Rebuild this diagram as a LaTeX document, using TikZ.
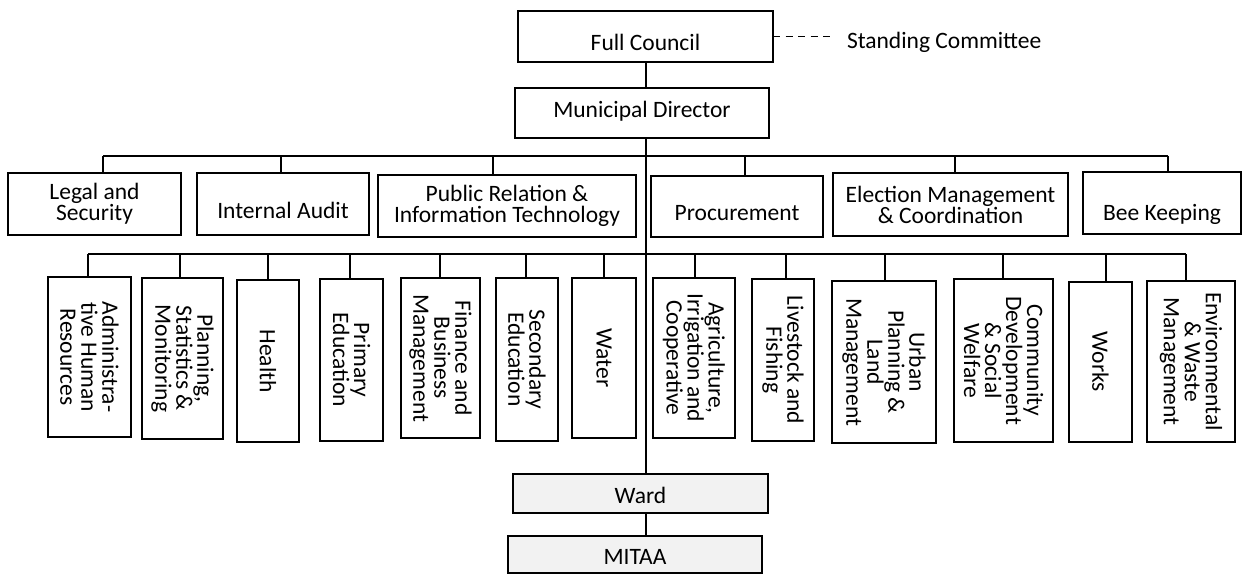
\documentclass[tikz,border=0pt]{standalone}
\usepackage{fontspec}
\setmainfont{Carlito}
\definecolor{wardfill}{HTML}{F2F2F2}

% box given by its corners: \orgbox[options]{name}{x1}{y1}{x2}{y2}
\newcommand{\orgbox}[6][]{%
  \node[box,#1,minimum width={(#5-#3)*1pt},minimum height={(#6-#4)*1pt}]
    (#2) at ({(#3+#5)/2},{(#4+#6)/2}) {};}

\begin{document}
\begin{tikzpicture}[x=1pt,y=-1pt,
  box/.style={draw=black,line width=1.3pt,fill=white,inner sep=0pt,outer sep=0pt},
  shaded/.style={fill=wardfill},
  txt/.style={inner sep=0pt,outer sep=0pt,font=\fontsize{23.5}{21}\selectfont,align=center},
  vtxt/.style={txt,rotate=-90},
  conn/.style={draw=black,line width=1.2pt},
  dashconn/.style={draw=black,line width=1.1pt,dash pattern=on 7pt off 5.5pt}]
\useasboundingbox (0,0) rectangle (1245,575);

% ---- top of the hierarchy
\orgbox{fc}{518}{11}{773}{62}
\node[txt,anchor=base] (t-fc) at (645.5,51) {Full Council};
\orgbox{md}{515}{88}{769}{138}
\node[txt,anchor=base] (t-md) at (642,118) {Municipal Director};

\node[txt,anchor=base west] (sc) at (847,49) {Standing Committee};
\coordinate (scl) at (833,36.5);
\draw[dashconn] (fc.east) -- (scl);

% ---- units
\orgbox{legal}{8}{173}{181}{235}
\node[txt] (t-legal) at (legal) {Legal and\\Security};
\orgbox{audit}{197}{173}{369}{235}
\node[txt,anchor=base] (t-audit) at (283,218) {Internal Audit};
\orgbox{pr}{378}{175}{636}{237}
\node[txt] (t-pr) at (pr) {Public Relation \&\\Information Technology};
\orgbox{proc}{651}{176}{823}{237}
\node[txt,anchor=base] (t-proc) at (737,220) {Procurement};
\orgbox{elec}{833}{173}{1068}{236}
\node[txt] (t-elec) at (elec) {Election Management\\\& Coordination};
\orgbox{bee}{1083}{172}{1241}{234}
\node[txt,anchor=base] (t-bee) at (1162,220) {Bee Keeping};

% ---- departments
\orgbox{admin}{48}{277}{131}{437}
\node[vtxt] (t-admin) at (admin) {Administra-\\tive Human\\Resources};
\orgbox{plan}{142}{278}{223}{439}
\node[vtxt] (t-plan) at (plan) {Planning,\\Statistics \&\\Monitoring};
\orgbox{health}{237}{280}{299}{442}
\node[vtxt] (t-health) at (health) {Health};
\orgbox{prim}{320}{279}{383}{441}
\node[vtxt] (t-prim) at (prim) {Primary\\Education};
\orgbox{fin}{401}{278}{480}{438}
\node[vtxt] (t-fin) at (fin) {Finance and\\Business\\Management};
\orgbox{sec}{496}{278}{558}{441}
\node[vtxt] (t-sec) at (sec) {Secondary\\Education};
\orgbox{water}{572}{278}{636}{438}
\node[vtxt] (t-water) at (water) {Water};
\orgbox{agri}{653}{278}{735}{438}
\node[vtxt] (t-agri) at (agri) {Agriculture,\\Irrigation and\\Cooperative};
\orgbox{live}{752}{279}{814}{441}
\node[vtxt] (t-live) at (live) {Livestock and\\Fishing};
\orgbox{urban}{832}{281}{936}{443}
\node[vtxt] (t-urban) at (urban) {Urban\\Planning \&\\Land\\Management};
\orgbox{comm}{954}{279}{1053}{442}
\node[vtxt] (t-comm) at (comm) {Community\\Development\\\& Social\\Welfare};
\orgbox{works}{1069}{282}{1132}{442}
\node[vtxt] (t-works) at (works) {Works};
\orgbox{env}{1147}{281}{1235}{442}
\node[vtxt] (t-env) at (env) {Environmental\\\& Waste\\Management};

% ---- lower levels
\orgbox[shaded]{ward}{513}{474}{768}{513}
\node[txt,anchor=base] (t-ward) at (640.5,503) {Ward};
\orgbox[shaded]{mitaa}{508}{536}{762}{573}
\node[txt,anchor=base] (t-mitaa) at (635,564) {MITAA};

% ---- connectors
\coordinate (sp) at (646,156);
\draw[conn] (fc.south -| sp) -- (md.north -| sp);
\draw[conn] (md.south -| sp) -- (ward.north -| sp);
\draw[conn] (ward.south -| sp) -- (mitaa.north -| sp);

\foreach \n/\x in {legal/103,audit/281,pr/493,proc/745,elec/955,bee/1168}{
  \coordinate (j-\n) at (\x,156);
  \draw[conn] (j-\n) -- (j-\n |- \n.north);
}
\draw[conn] (j-legal) -- (j-bee);

\foreach \n/\x in {admin/88,plan/180,health/268,prim/350,fin/440,sec/526,
                   water/604,agri/695,live/786,urban/885,comm/1003,works/1106,env/1186}{
  \coordinate (j-\n) at (\x,254);
  \draw[conn] (j-\n) -- (j-\n |- \n.north);
}
\draw[conn] (j-admin) -- (j-env);
\end{tikzpicture}
\end{document}
